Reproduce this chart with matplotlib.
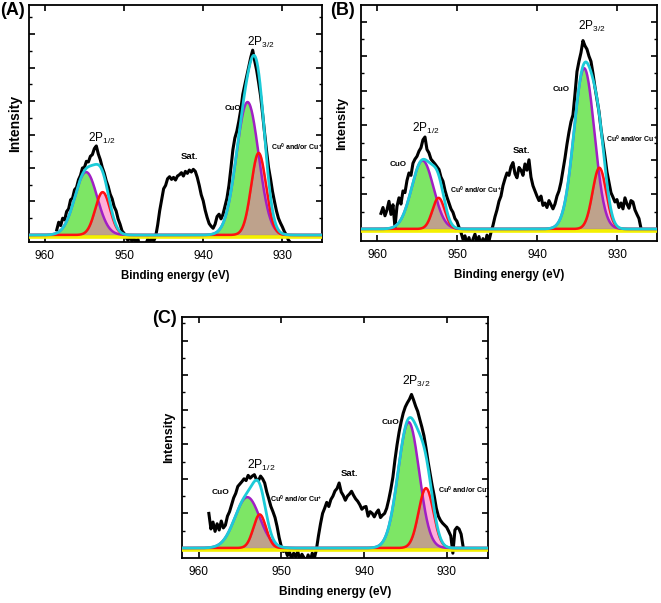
import numpy as np
import matplotlib
matplotlib.use('Agg')
import matplotlib.pyplot as plt
from matplotlib.ticker import MultipleLocator

plt.rcParams['font.family'] = ['Liberation Sans', 'DejaVu Sans']
plt.rcParams['mathtext.fontset'] = 'custom'
plt.rcParams['mathtext.rm'] = 'Liberation Sans'
plt.rcParams['mathtext.it'] = 'Liberation Sans:italic'
plt.rcParams['mathtext.bf'] = 'Liberation Sans:bold'

# ---------------------------------------------------------------
# data (binding energy in eV, intensity in a.u.)
# raw spectra are sampled every 0.25 eV from the given start energy
# ---------------------------------------------------------------
step = 0.25

a_start = 958.5
a_raw = [0.15, 0.38, 0.28, 0.50, 0.45, 0.70, 0.78, 1.05, 1.10, 1.35, 1.42, 1.65,
         1.78, 2.00, 2.02, 2.20, 2.18, 2.35, 2.40, 2.58, 2.66, 2.42, 2.25, 2.02,
         1.85, 1.62, 1.45, 1.22, 1.08, 0.85, 0.72, 0.48, 0.32, 0.12, 0.05, -0.08,
         -0.16, -0.06, -0.18, -0.10, -0.20, -0.12, -0.35, -0.50, -0.45, -0.28, -0.12, -0.22,
         -0.06, -0.18, -0.04, 0.30, 0.72, 1.05, 1.38, 1.48, 1.68, 1.74, 1.66, 1.72,
         1.64, 1.76, 1.80, 1.86, 1.76, 1.90, 1.84, 1.94, 1.88, 1.96, 1.90, 1.72,
         1.48, 1.20, 1.02, 0.74, 0.52, 0.34, 0.26, 0.20, 0.32, 0.55, 0.62, 0.48,
         0.62, 0.86, 1.10, 1.48, 2.00, 2.55, 2.90, 3.10, 3.40, 3.75, 4.20, 4.48,
         4.75, 5.02, 5.30, 5.52, 5.20, 4.92, 4.55, 4.15, 3.62, 3.05, 2.52, 2.02,
         1.68, 1.30, 1.00, 0.72, 0.50, 0.36, 0.24, 0.10, 0.00, -0.15, -0.22]

b_start = 959.5
b_raw = [0.45, 0.62, 0.38, 0.55, 0.80, 0.42, 0.70, 0.05, 0.65, 0.90, 0.72, 1.10,
         1.05, 1.40, 1.62, 1.55, 1.90, 2.02, 2.10, 2.25, 2.35, 2.58, 2.66, 2.30,
         2.20, 2.02, 1.95, 1.88, 1.80, 1.72, 1.50, 1.38, 1.12, 0.92, 0.75, 0.58,
         0.48, 0.30, 0.22, 0.05, -0.10, -0.30, -0.20, -0.45, -0.25, -0.50, -0.30, -0.15,
         -0.40, -0.22, -0.50, -0.28, -0.45, -0.18, -0.35, -0.10, 0.10, 0.35, 0.55, 0.80,
         0.95, 1.25, 1.45, 1.62, 1.55, 1.80, 1.92, 1.60, 1.48, 1.78, 1.70, 1.55,
         1.88, 1.70, 2.00, 1.50, 1.25, 1.10, 0.95, 0.82, 0.95, 0.68, 0.75, 0.62,
         0.82, 0.70, 0.58, 0.72, 0.95, 1.10, 1.35, 1.70, 2.05, 2.45, 2.80, 3.10,
         3.30, 3.90, 4.55, 4.85, 5.10, 5.45, 5.30, 5.20, 5.00, 4.85, 4.50, 4.10,
         3.75, 3.40, 2.90, 2.50, 2.10, 1.65, 1.35, 1.05, 0.92, 0.78, 0.85, 0.62,
         0.75, 0.58, 0.90, 0.72, 0.60, 0.82, 0.78, 0.55, 0.42, 0.30, 0.02]

c_start = 958.75
c_raw = [1.00, 0.55, 0.75, 0.48, 0.70, 0.52, 0.78, 0.58, 0.66, 0.92, 1.05, 1.25,
         1.45, 1.58, 1.78, 1.85, 1.92, 2.00, 1.95, 2.10, 2.02, 2.08, 2.12, 1.98,
         1.95, 2.08, 2.00, 1.88, 1.62, 1.42, 1.20, 1.05, 0.88, 0.62, 0.30, 0.05,
         -0.10, -0.05, -0.22, -0.12, -0.30, -0.15, -0.25, -0.10, -0.35, -0.18, -0.28, -0.40,
         -0.20, -0.38, -0.15, -0.30, -0.05, 0.35, 0.70, 1.00, 1.15, 1.32, 1.20, 1.40,
         1.50, 1.65, 1.72, 1.88, 1.62, 1.52, 1.38, 1.50, 1.56, 1.64, 1.52, 1.42,
         1.35, 1.25, 1.12, 1.18, 1.20, 0.92, 1.05, 1.00, 0.90, 1.02, 1.10, 0.88,
         0.95, 1.00, 1.15, 1.40, 1.70, 2.05, 2.55, 2.98, 3.35, 3.65, 3.90, 4.08,
         4.20, 4.30, 4.44, 4.28, 4.10, 3.95, 3.72, 3.50, 3.25, 2.90, 2.50, 2.15,
         1.80, 1.50, 1.15, 0.92, 0.80, 0.72, 0.66, 0.60, 0.48, 0.35, -0.15, 0.52,
         0.60, 0.55, 0.40, 0.02]

# fitted components: (centre eV, height, FWHM eV)
a_cuo = [(934.4, 3.97, 3.3), (954.8, 1.88, 3.3)]
a_cu = [(933.0, 2.45, 2.2), (952.7, 1.28, 2.2)]
b_cuo = [(934.1, 4.65, 3.0), (954.3, 1.98, 3.2)]
b_cu = [(932.2, 1.77, 2.0), (952.3, 0.90, 1.8)]
c_cuo = [(934.6, 3.64, 3.0), (954.1, 1.47, 3.5)]
c_cu = [(932.5, 1.73, 2.1), (952.6, 0.97, 1.8)]

tick_energies = [960, 950, 940, 930]


""" Gaussian line shape from centre, height and FWHM """
def gauss(x, peak):
    c, h, fwhm = peak
    s = fwhm / 2.3548
    return h * np.exp(-0.5 * ((x - c) / s) ** 2)


""" Draw Panel
        raw spectrum (black), CuO and Cu0/Cu+ components, envelope, baseline
"""
def draw_panel(ax, start, raw, cuo, cu, ylim, ylab_size, ylab_pad, xlab_size):

    x = np.linspace(962, 925, 800)
    y_cuo = sum(gauss(x, p) for p in cuo)
    y_cu = sum(gauss(x, p) for p in cu)
    env = y_cuo + y_cu

    energy = start - step * np.arange(len(raw))

    # filled components
    ax.fill_between(x, 0, y_cuo, color='#66e24a', alpha=0.85, lw=0, zorder=1)
    ax.fill_between(x, 0, y_cu, facecolor='#ff5fb4', alpha=0.5,
                    edgecolor='#8b5a3c', lw=0.8, zorder=2)

    # measured spectrum
    ax.plot(energy, raw, color='black', lw=2.2, zorder=3)

    # baseline, components, envelope
    ax.axhline(-0.06, color='#f4f000', lw=2.6, zorder=4)
    ax.plot(x, y_cuo, color='#a11fc4', lw=1.8, zorder=5)
    ax.plot(x, y_cu, color='#ff1010', lw=1.8, zorder=5)
    ax.plot(x, env, color='#1ccbd8', lw=2.0, zorder=6)

    # axes set up
    ax.set_xlim(962, 925)
    ax.set_ylim(*ylim)
    ax.set_xticks(tick_energies)
    ax.yaxis.set_major_locator(MultipleLocator(1))
    ax.yaxis.set_minor_locator(MultipleLocator(0.5))
    ax.tick_params(which='major', direction='in', top=True, right=True,
                   length=4, width=1.2, labelleft=False, labelsize=8.6, pad=5.5)
    ax.tick_params(which='minor', direction='in', right=True, length=2.5, width=1.0)
    for sp in ax.spines.values():
        sp.set_linewidth(1.3)
    ax.set_xlabel('Binding energy (eV)', fontsize=xlab_size, fontweight='bold', labelpad=6)
    ax.set_ylabel('Intensity', fontsize=ylab_size, fontweight='bold', labelpad=ylab_pad)


def label(ax, x, y, s, size, ha='center', bold=True):
    ax.text(x, y, s, fontsize=size, ha=ha, va='center',
            fontweight='bold' if bold else 'normal', zorder=8, clip_on=False)


fig = plt.figure(figsize=(6.61, 6.03), dpi=100)

ax_a = fig.add_axes([0.0439, 0.5987, 0.4432, 0.3930])
ax_b = fig.add_axes([0.5461, 0.6003, 0.4478, 0.3914])
ax_c = fig.add_axes([0.2753, 0.0746, 0.4630, 0.3997])

draw_panel(ax_a, a_start, a_raw, a_cuo, a_cu, (-0.21, 6.87), 10.0, 1.5, 8.3)
draw_panel(ax_b, b_start, b_raw, b_cuo, b_cu, (-0.35, 6.48), 9.4, 6.0, 8.4)
draw_panel(ax_c, c_start, c_raw, c_cuo, c_cu, (-0.29, 6.68), 9.0, 1.5, 8.6)

cu_txt = r'Cu$^{\mathbf{0}}$ and/or Cu$^{\mathbf{+}}$'

# panel A labels
label(ax_a, 932.7, 5.76, r'2P$_{3/2}$', 8.5, bold=False)
label(ax_a, 936.2, 3.79, 'CuO', 5.6)
label(ax_a, 931.5, 2.63, cu_txt, 5.0, ha='left')
label(ax_a, 941.8, 2.33, 'Sat.', 6.8)
label(ax_a, 952.8, 2.87, r'2P$_{1/2}$', 8.5, bold=False)

# panel B labels
label(ax_b, 933.2, 5.85, r'2P$_{3/2}$', 8.5, bold=False)
label(ax_b, 937.0, 4.03, 'CuO', 5.8)
label(ax_b, 931.4, 2.60, cu_txt, 5.0, ha='left')
label(ax_b, 942.0, 2.27, 'Sat.', 6.8)
label(ax_b, 953.9, 2.90, r'2P$_{1/2}$', 8.5, bold=False)
label(ax_b, 957.3, 1.86, 'CuO', 5.8)
label(ax_b, 950.9, 1.12, cu_txt, 5.0, ha='left')

# panel C labels
label(ax_c, 933.7, 4.81, r'2P$_{3/2}$', 8.7, bold=False)
label(ax_c, 936.8, 3.62, 'CuO', 6.0)
label(ax_c, 931.1, 1.68, cu_txt, 5.1, ha='left')
label(ax_c, 941.7, 2.16, 'Sat.', 6.8)
label(ax_c, 952.4, 2.40, r'2P$_{1/2}$', 8.7, bold=False)
label(ax_c, 957.4, 1.60, 'CuO', 6.0)
label(ax_c, 951.3, 1.41, cu_txt, 5.1, ha='left')

# panel letters
fig.text(0.0, 0.997, '(A)', fontsize=13, fontweight='bold', va='top')
fig.text(0.4992, 0.997, '(B)', fontsize=13, fontweight='bold', va='top')
fig.text(0.2300, 0.486, '(C)', fontsize=13, fontweight='bold', va='top')

plt.savefig('out.png', dpi=100)
